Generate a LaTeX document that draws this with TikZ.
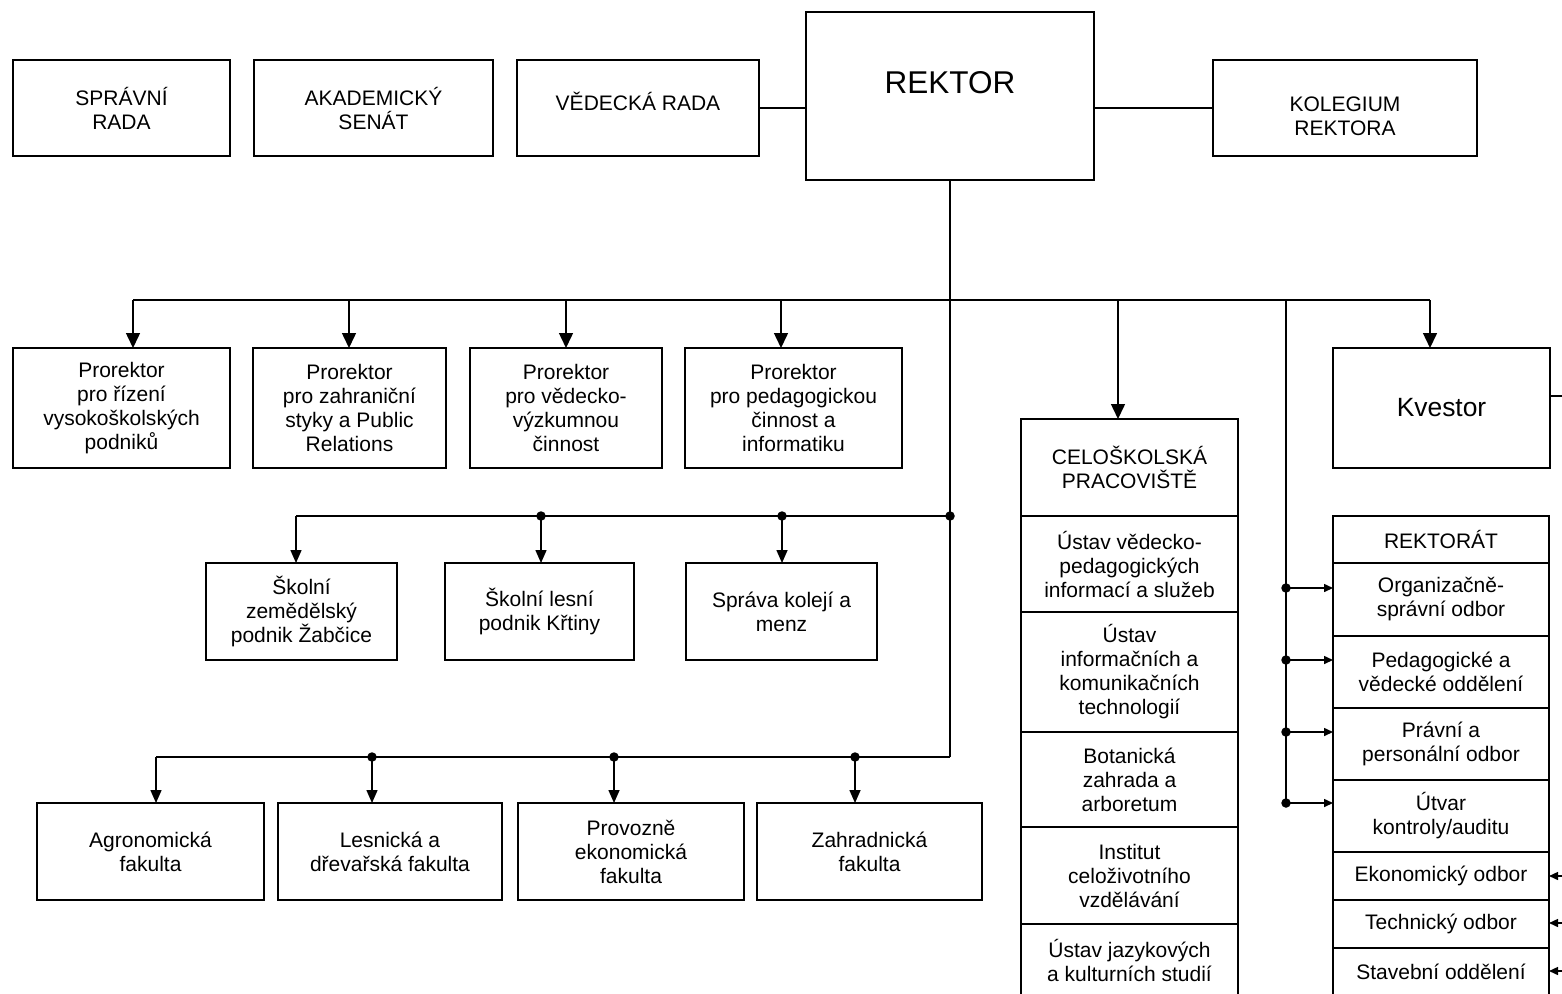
\documentclass[tikz,border=0pt]{standalone}
\usepackage{fontspec}
\setmainfont{Liberation Sans}
\usetikzlibrary{arrows.meta}
\tikzset{
  box/.style={draw, line width=1.5pt, inner sep=0pt, outer sep=0pt, align=center, font=\fontsize{21}{24}\selectfont},
  txt/.style={inner sep=0pt, outer sep=0pt, align=center, font=\fontsize{21}{24}\selectfont},
  conn/.style={line width=1.5pt},
  bigarr/.style={conn, -{Triangle[length=15pt,width=14pt]}},
  midarr/.style={conn, -{Triangle[length=13pt,width=11pt]}},
  smallarr/.style={conn, -{Triangle[length=9pt,width=8pt]}},
  jdot/.style={circle, fill, inner sep=0pt, minimum size=9.5pt},
}
\begin{document}
\begin{tikzpicture}[x=1pt,y=-1pt]
\useasboundingbox (0,0) rectangle (1562,993);
\clip (0,0) rectangle (1562,993);

% ---------- top row ----------
\node[box, minimum width=217pt, minimum height=96pt] (spr) at (121.5,108) {SPRÁVNÍ\\RADA};
\node[box, minimum width=239pt, minimum height=96pt] (aka) at (373.5,108) {AKADEMICKÝ\\SENÁT};
\node[box, minimum width=242pt, minimum height=96pt] (ved) at (638,108) {};
\node[txt] (vedt) at (638,101) {VĚDECKÁ RADA};
\node[box, minimum width=288pt, minimum height=168pt] (rek) at (950,96) {};
\node[txt, font=\fontsize{31.5}{36}\selectfont] (rekt) at (950,83) {REKTOR};
\node[box, minimum width=264pt, minimum height=96pt] (kol) at (1345,108) {};
\node[txt] (kolt) at (1345,116) {KOLEGIUM\\REKTORA};

\draw[conn] (ved.east) -- (ved.east -| rek.west);
\draw[conn] (kol.west -| rek.east) -- (kol.west);

% ---------- prorektors ----------
\node[box, minimum width=217pt, minimum height=120pt] (p1) at (121.5,408) {Prorektor\\pro řízení\\vysokoškolských\\podniků};
\node[box, minimum width=193pt, minimum height=120pt] (p2) at (349.5,408) {Prorektor\\pro zahraniční\\styky a Public\\Relations};
\node[box, minimum width=192pt, minimum height=120pt] (p3) at (566,408) {Prorektor\\pro vědecko-\\výzkumnou\\činnost};
\node[box, minimum width=217pt, minimum height=120pt] (p4) at (793.5,408) {Prorektor\\pro pedagogickou\\činnost a\\informatiku};
\node[box, minimum width=217pt, minimum height=120pt, font=\fontsize{26.4}{30}\selectfont] (kv) at (1441.5,408) {Kvestor};

% ---------- school enterprises ----------
\node[box, minimum width=191pt, minimum height=97pt] (s1) at (301.5,611.5) {Školní\\zemědělský\\podnik Žabčice};
\node[box, minimum width=189pt, minimum height=97pt] (s2) at (539.5,611.5) {Školní lesní\\podnik Křtiny};
\node[box, minimum width=191pt, minimum height=97pt] (s3) at (781.5,611.5) {Správa kolejí a\\menz};

% ---------- faculties ----------
\node[box, minimum width=227pt, minimum height=97pt] (f1) at (150.5,851.5) {Agronomická\\fakulta};
\node[box, minimum width=224pt, minimum height=97pt] (f2) at (390,851.5) {Lesnická a\\dřevařská fakulta};
\node[box, minimum width=226pt, minimum height=97pt] (f3) at (631,851.5) {Provozně\\ekonomická\\fakulta};
\node[box, minimum width=225pt, minimum height=97pt] (f4) at (869.5,851.5) {Zahradnická\\fakulta};

% ---------- celoškolská pracoviště ----------
\node[box, minimum width=217pt, minimum height=97pt] (c0) at (1129.5,467.5) {CELOŠKOLSKÁ\\PRACOVIŠTĚ};
\node[box, minimum width=217pt, minimum height=96pt] (c1) at (1129.5,564) {Ústav vědecko-\\pedagogických\\informací a služeb};
\node[box, minimum width=217pt, minimum height=120pt] (c2) at (1129.5,672) {Ústav\\informačních a\\komunikačních\\technologií};
\node[box, minimum width=217pt, minimum height=95pt] (c3) at (1129.5,779.5) {Botanická\\zahrada a\\arboretum};
\node[box, minimum width=217pt, minimum height=97pt] (c4) at (1129.5,875.5) {Institut\\celoživotního\\vzdělávání};
\node[box, minimum width=217pt, minimum height=72pt] (c5) at (1129.5,960) {Ústav jazykových\\a kulturních studií};

% ---------- rektorát ----------
\node[box, minimum width=216pt, minimum height=47pt] (r0) at (1441,539.5) {REKTORÁT};
\node[box, minimum width=216pt, minimum height=73pt] (r1) at (1441,599.5) {Organizačně-\\správní odbor};
\node[box, minimum width=216pt, minimum height=72pt] (r2) at (1441,672) {Pedagogické a\\vědecké oddělení};
\node[box, minimum width=216pt, minimum height=72pt] (r3) at (1441,744) {Právní a\\personální odbor};
\node[box, minimum width=216pt, minimum height=72pt] (r4) at (1441,816) {Útvar\\kontroly/auditu};
\node[box, minimum width=216pt, minimum height=48pt] (r5) at (1441,876) {Ekonomický odbor};
\node[box, minimum width=216pt, minimum height=48pt] (r6) at (1441,924) {Technický odbor};
\node[box, minimum width=216pt, minimum height=48pt] (r7) at (1441,972) {Stavební oddělení};

% ---------- main bus ----------
\coordinate (a1) at (133,300);
\coordinate (a2) at (349,300);
\coordinate (a3) at (566,300);
\coordinate (a4) at (781,300);
\coordinate (ac) at (1118,300);
\coordinate (ar) at (1286,300);
\coordinate (ak) at (1430,300);
\coordinate (t2) at (950,516);
\coordinate (t3) at (950,757);

\draw[conn] (rek.south) -- (t3);
\draw[conn] (a1) -- (ak);
\draw[bigarr] (a1) -- (a1 |- p1.north);
\draw[bigarr] (a2) -- (a2 |- p2.north);
\draw[bigarr] (a3) -- (a3 |- p3.north);
\draw[bigarr] (a4) -- (a4 |- p4.north);
\draw[bigarr] (ac) -- (ac |- c0.north);
\draw[bigarr] (ak) -- (ak |- kv.north);

\coordinate (kvo) at (1562,396);
\draw[conn] (kvo -| kv.east) -- (kvo);

% ---------- level 2 bus ----------
\coordinate (b1) at (296,516);
\coordinate (b2) at (541,516);
\coordinate (b3) at (782,516);
\draw[conn] (t2) -- (b1);
\draw[midarr] (b1) -- (b1 |- s1.north);
\draw[midarr] (b2) -- (b2 |- s2.north);
\draw[midarr] (b3) -- (b3 |- s3.north);
\node[jdot] (d21) at (b2) {};
\node[jdot] (d22) at (b3) {};
\node[jdot] (d23) at (t2) {};

% ---------- level 3 bus ----------
\coordinate (g1) at (156,757);
\coordinate (g2) at (372,757);
\coordinate (g3) at (614,757);
\coordinate (g4) at (855,757);
\draw[conn] (t3) -- (g1);
\draw[midarr] (g1) -- (g1 |- f1.north);
\draw[midarr] (g2) -- (g2 |- f2.north);
\draw[midarr] (g3) -- (g3 |- f3.north);
\draw[midarr] (g4) -- (g4 |- f4.north);
\node[jdot] (d31) at (g2) {};
\node[jdot] (d32) at (g3) {};
\node[jdot] (d33) at (g4) {};

% ---------- rektorát bus ----------
\coordinate (q1) at (1286,588);
\coordinate (q2) at (1286,660);
\coordinate (q3) at (1286,732);
\coordinate (q4) at (1286,803);
\draw[conn] (ar) -- (q4);
\draw[smallarr] (q1) -- (q1 -| r1.west);
\draw[smallarr] (q2) -- (q2 -| r2.west);
\draw[smallarr] (q3) -- (q3 -| r3.west);
\draw[smallarr] (q4) -- (q4 -| r4.west);
\node[jdot] (dq1) at (q1) {};
\node[jdot] (dq2) at (q2) {};
\node[jdot] (dq3) at (q3) {};
\node[jdot] (dq4) at (q4) {};

\coordinate (e5) at (1562,876);
\coordinate (e6) at (1562,923);
\coordinate (e7) at (1562,971);
\draw[smallarr] (e5) -- (e5 -| r5.east);
\draw[smallarr] (e6) -- (e6 -| r6.east);
\draw[smallarr] (e7) -- (e7 -| r7.east);
\end{tikzpicture}
\end{document}
